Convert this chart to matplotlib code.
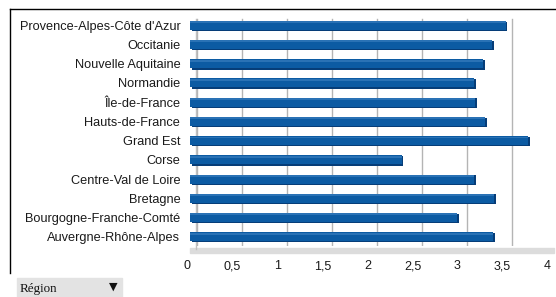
"""Horizontal bar chart per French region, styled like a LibreOffice 3D chart."""
import matplotlib
matplotlib.use("Agg")
import matplotlib.pyplot as plt
import matplotlib.transforms as mtransforms
from matplotlib.lines import Line2D
from matplotlib.patches import Rectangle

regions = ["Provence-Alpes-Côte d'Azur", "Occitanie", "Nouvelle Aquitaine",
           "Normandie", "Île-de-France", "Hauts-de-France", "Grand Est",
           "Corse", "Centre-Val de Loire", "Bretagne",
           "Bourgogne-Franche-Comté", "Auvergne-Rhône-Alpes"]
values = [3.51, 3.36, 3.26, 3.16, 3.17, 3.28, 3.76, 2.35, 3.16, 3.38, 2.97, 3.37]
xticks = [0, 0.5, 1, 1.5, 2, 2.5, 3, 3.5, 4]
xtick_labels = ["0", "0,5", "1", "1,5", "2", "2,5", "3", "3,5", "4"]

plt.rcParams["font.family"] = ["Liberation Sans", "DejaVu Sans"]

fig = plt.figure(figsize=(5.56, 2.97), dpi=100)
W, H = 556, 297
ax = fig.add_axes([190 / W, 1 - 246.3 / H, 360 / W, (246.3 - 15.7) / H])

ypos = list(range(len(regions)))
shift = lambda dx, dy: ax.transData + mtransforms.ScaledTranslation(dx / 100, dy / 100, fig.dpi_scale_trans)

# shadow / side face, then front face
ax.barh(ypos, values, height=0.5, color="#063d78", transform=shift(1.5, -1.0), zorder=3)
ax.barh(ypos, values, height=0.47, color="#0c5ba3", zorder=4)
ax.barh([y - 0.16 for y in ypos], values, height=0.1, color="#2a72b5", zorder=4)

ax.set_xlim(0, 4)
ax.set_ylim(len(regions) - 0.5, -0.5)
ax.set_yticks(ypos)
ax.set_yticklabels(regions, fontsize=9.2, color="#1a1a1a")
ax.tick_params(axis="y", length=0, pad=7)

# gridlines on the back wall, a few px to the right of the tick labels
grid_tr = ax.get_xaxis_transform() + mtransforms.ScaledTranslation(6.5 / 100, 0, fig.dpi_scale_trans)
for t in xticks:
    ax.plot([t, t], [0, 0.985], color="#b4b4b4", lw=1.0, transform=grid_tr, zorder=1)
ax.set_xticks(xticks)
ax.set_xticklabels(xtick_labels, fontsize=9.0, color="#1a1a1a")
ax.tick_params(axis="x", length=0, pad=10)
for lab in ax.get_xticklabels():
    lab.set_transform(lab.get_transform() + mtransforms.ScaledTranslation(-2.5 / 100, 0, fig.dpi_scale_trans))

for s in ax.spines.values():
    s.set_visible(False)

# floor band
ax.add_patch(Rectangle((0.0, -0.028), 1.01, 0.02, transform=ax.transAxes,
                       color="#dcdcdc", clip_on=False, zorder=2))
# left wall edge
ax.plot([0.018, 0.018], [-0.01, 0.985], color="#c0c0c0", lw=1.0,
        transform=ax.transAxes, clip_on=False, zorder=2)

# panel frame
fig.add_artist(Line2D([10 / W, 1], [1 - 9 / H, 1 - 9 / H], color="black", lw=1.0))
fig.add_artist(Line2D([10 / W, 10 / W], [1 - 9 / H, 1 - 273 / H], color="black", lw=1.0))

# "Région" drop-down
fig.add_artist(Rectangle((17 / W, 0), 105 / W, 19 / H, transform=fig.transFigure,
                         color="#e3e3e3"))
fig.text(20 / W, 8 / H, "Région", family="Liberation Serif", fontsize=9.4,
         va="center", ha="left", color="#111111")
fig.text(113 / W, 10 / H, "▼", family="DejaVu Sans", fontsize=8,
         va="center", ha="center", color="#111111")

fig.savefig("out.png", dpi=100)
